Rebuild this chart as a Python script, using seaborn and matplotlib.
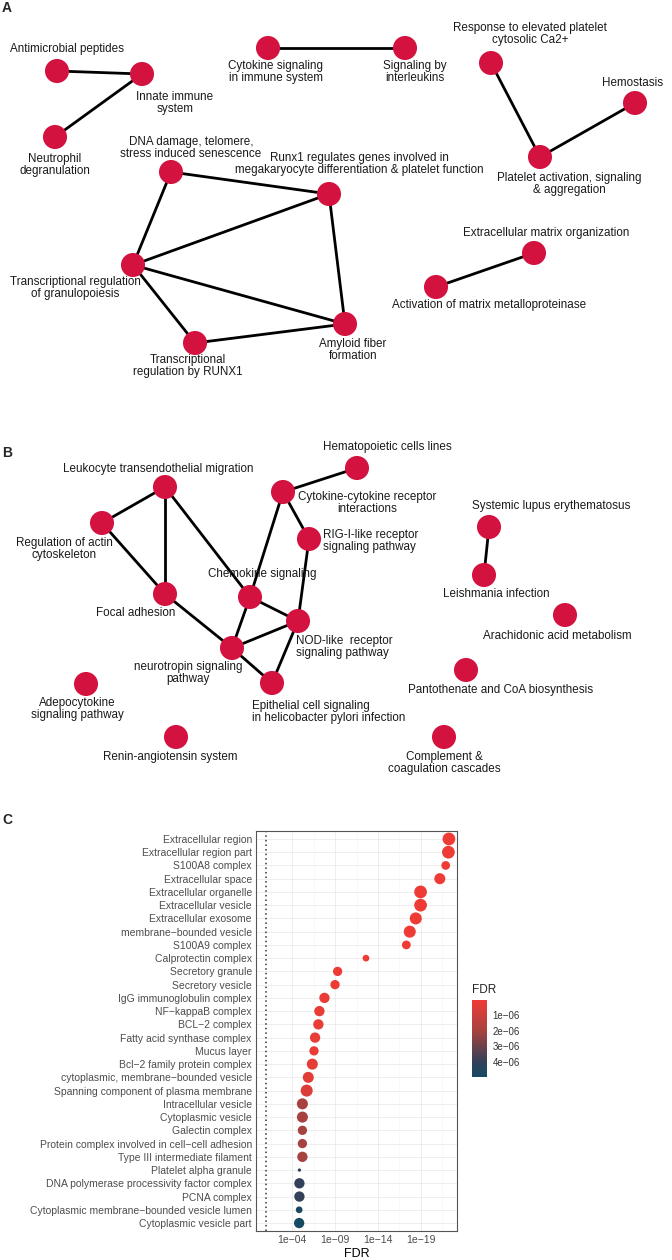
import numpy as np
import pandas as pd
import seaborn as sns
import matplotlib.pyplot as plt
from matplotlib.colors import LinearSegmentedColormap, Normalize
from matplotlib.cm import ScalarMappable
from matplotlib.ticker import NullFormatter

sns.set_theme(style="white")
plt.rcParams['font.family'] = ['Liberation Sans', 'DejaVu Sans']

W, H = 672, 1260

# ---- panel A: reactome pathway network (layout in pixel units) ----
a_nodes = ["Antimicrobial peptides", "Innate immune\nsystem", "Neutrophil\ndegranulation",
           "Cytokine signaling\nin immune system", "Signaling by\ninterleukins",
           "Response to elevated platelet\ncytosolic Ca2+", "Hemostasis",
           "Platelet activation, signaling\n& aggregation",
           "DNA damage, telomere,\nstress induced senescence",
           "Runx1 regulates genes involved in\nmegakaryocyte differentiation & platelet function",
           "Transcriptional regulation\nof granulopoiesis", "Transcriptional\nregulation by RUNX1",
           "Amyloid fiber\nformation", "Extracellular matrix organization",
           "Activation of matrix metalloproteinase"]
a_x = [57, 142, 55, 268, 405, 491, 635, 540, 171, 329, 133, 195, 345, 534, 436]
a_y = [71, 74, 137, 48, 48, 63, 103, 157, 172, 194, 265, 343, 324, 253, 287]
a_edges = [(0, 1), (1, 2), (3, 4), (5, 7), (6, 7), (8, 9), (8, 10), (9, 10),
           (9, 12), (10, 12), (10, 11), (11, 12), (13, 14)]
a_lab_dx = [10, 33, 0, 8, 10, 39, -2, 29, 20, 30, -58, -7, 8, 12, 53]
a_lab_dy = [-22, 29, 28, 24, 24, -29, -20, 27, -24, -30, 23, 23, 26, -20, 18]

# ---- panel B: KEGG pathway network ----
b_nodes = ["Leukocyte transendothelial migration", "Hematopoietic cells lines",
           "Cytokine-cytokine receptor\ninteractions", "Systemic lupus erythematosus",
           "RIG-I-like receptor\nsignaling pathway", "Regulation of actin\ncytoskeleton",
           "Chemokine signaling", "Focal adhesion", "NOD-like  receptor\nsignaling pathway",
           "neurotropin signaling\npathway",
           "Epithelial cell signaling\nin helicobacter pylori infection",
           "Adepocytokine\nsignaling pathway", "Renin-angiotensin system",
           "Leishmania infection", "Arachidonic acid metabolism",
           "Pantothenate and CoA biosynthesis", "Complement &\ncoagulation cascades"]
b_x = [165, 357, 283, 489, 309, 102, 250, 165, 298, 232, 272, 86, 176, 484, 565, 466, 444]
b_y = [487, 468, 492, 527, 539, 523, 597, 594, 621, 648, 683, 684, 737, 575, 615, 670, 737]
b_edges = [(0, 5), (0, 7), (0, 6), (5, 7), (7, 9), (6, 9), (6, 8), (9, 8), (9, 10),
           (10, 8), (4, 8), (2, 6), (2, 4), (2, 1), (3, 13)]
b_lab_dx = [-7, 30, 84, 62, 14, -38, 12, -29, -2, -44, -20, -9, -6, 12, -8, 35, 0]
b_lab_dy = [-18, -21, 11, -21, 2, 26, -23, 19, 26, 25, 29, 25, 20, 19, 21, 20, 26]
b_lab_ha = ["center", "center", "center", "center", "left", "center", "center", "center",
            "left", "center", "left", "center", "center", "center", "center", "center", "center"]

# ---- panel C: GO cellular component enrichment ----
go_terms = ["Extracellular region", "Extracellular region part", "S100A8 complex",
            "Extracellular space", "Extracellular organelle", "Extracellular vesicle",
            "Extracellular exosome", "membrane\u2212bounded vesicle", "S100A9 complex",
            "Calprotectin complex", "Secretory granule", "Secretory vesicle",
            "IgG immunoglobulin complex", "NF\u2212kappaB complex", "BCL\u22122 complex",
            "Fatty acid synthase complex", "Mucus layer", "Bcl\u22122 family protein complex",
            "cytoplasmic, membrane\u2212bounded vesicle", "Spanning component of plasma membrane",
            "Intracellular vesicle", "Cytoplasmic vesicle", "Galectin complex",
            "Protein complex involved in cell\u2212cell adhesion", "Type III intermediate filament",
            "Platelet alpha granule", "DNA polymerase processivity factor complex",
            "PCNA complex", "Cytoplasmic membrane\u2212bounded vesicle lumen",
            "Cytoplasmic vesicle part"]
go_pos = [5.5e-23, 6.3e-23, 1.3e-22, 6.3e-22, 1.1e-19, 1.1e-19, 4.0e-19, 2.0e-18, 5.0e-18,
          2.5e-13, 5.0e-10, 1.0e-9, 1.7e-8, 6.6e-8, 8.7e-8, 2.1e-7, 2.8e-7, 4.4e-7, 1.3e-6,
          2.0e-6, 6.3e-6, 6.3e-6, 6.3e-6, 6.3e-6, 6.3e-6, 1.4e-5, 1.4e-5, 1.4e-5, 1.5e-5, 1.5e-5]
go_fdr = [2.1e-21, 2.1e-21, 3.5e-20, 1.0e-19, 4.9e-17, 4.9e-17, 1.6e-16, 4.2e-16, 1.1e-15,
          3.2e-11, 4.8e-8, 8.5e-8, 1.3e-7, 1.6e-7, 1.6e-7, 1.9e-7, 1.9e-7, 2.4e-7, 3.6e-7,
          5.2e-7, 2.0e-6, 2.0e-6, 2.0e-6, 2.0e-6, 2.0e-6, 4.0e-6, 4.0e-6, 4.0e-6, 4.8e-6, 5.0e-6]
go_count = [161, 161, 76, 121, 161, 161, 144, 144, 76, 45, 86, 86, 106, 106, 106, 106, 86,
            121, 121, 144, 121, 121, 86, 86, 106, 11, 106, 106, 45, 106]
x_ticks = [1e-4, 1e-9, 1e-14, 1e-19]
x_tick_labels = ["1e\u221204", "1e\u221209", "1e\u221214", "1e\u221219"]
cbar_ticks = [1e-6, 2e-6, 3e-6, 4e-6]
cbar_labels = ["1e\u221206", "2e\u221206", "3e\u221206", "4e\u221206"]

node_col = "#D3123F"
fdr_cmap = LinearSegmentedColormap.from_list(
    "fdr", [(0, "#EF3B36"), (0.4, "#A6423F"), (0.8, "#33405A"), (1, "#164A63")])

fig = plt.figure(figsize=(W / 100, H / 100), dpi=100)

# networks share one axes in pixel coordinates
net = fig.add_axes([0, 460 / H, 1, 800 / H])
net.set_xlim(0, W)
net.set_ylim(800, 0)
net.axis("off")


def draw_network(names, xs, ys, edges, dx, dy, ha=None):
    for i, j in edges:
        net.plot([xs[i], xs[j]], [ys[i], ys[j]], color="black", lw=2, zorder=2,
                 solid_capstyle="round")
    sns.scatterplot(x=xs, y=ys, s=300, color=node_col, edgecolor="none", ax=net, zorder=3)
    for k, name in enumerate(names):
        h = "center" if ha is None else ha[k]
        net.text(xs[k] + dx[k], ys[k] + dy[k], name, ha=h, va="center", fontsize=8.4,
                 color="#1a1a1a", linespacing=0.98, multialignment=h, zorder=4)


draw_network(a_nodes, a_x, a_y, a_edges, a_lab_dx, a_lab_dy)
draw_network(b_nodes, b_x, b_y, b_edges, b_lab_dx, b_lab_dy, b_lab_ha)

# ---- panel C ----
df = pd.DataFrame({"term": go_terms, "pos": go_pos, "FDR": go_fdr, "count": go_count})
norm = Normalize(0, max(go_fdr))

ax = fig.add_axes([256 / W, 29 / H, 201 / W, 400 / H])
ax.axvline(0.1, color="#333333", lw=1.1, ls=(0, (1, 2)), zorder=1)
sns.scatterplot(data=df, x="pos", y="term", hue="FDR", size="count", palette=fdr_cmap,
                hue_norm=norm, sizes=(0, 84), size_norm=(0, 161), edgecolor="none",
                legend=False, ax=ax, zorder=3)
ax.set_xscale("log")
ax.set_xlim(10 ** 0.2, 10 ** -23.2)
ax.set_ylim(len(go_terms) - 0.4, -0.6)
ax.set_xticks(x_ticks)
ax.set_xticklabels(x_tick_labels)
ax.set_xticks([10 ** -1.5, 10 ** -6.5, 10 ** -11.5, 10 ** -16.5, 10 ** -21.5], minor=True)
ax.xaxis.set_minor_formatter(NullFormatter())
ax.grid(which="major", color="#EBEBEB", lw=0.6)
ax.grid(which="minor", axis="x", color="#F5F5F5", lw=0.4)
ax.set_axisbelow(True)
ax.tick_params(which="both", length=0, labelsize=7.5, labelcolor="#4D4D4D", pad=3)
ax.set_ylabel("")
ax.set_xlabel("FDR", fontsize=9, color="black", labelpad=2)
for sp in ax.spines.values():
    sp.set_color("#555555")
    sp.set_linewidth(0.8)

# colour legend
cax = fig.add_axes([472 / W, (H - 1077) / H, 15 / W, 77 / H])
cb = fig.colorbar(ScalarMappable(norm=norm, cmap=fdr_cmap), cax=cax)
cb.outline.set_visible(False)
cax.invert_yaxis()
cb.set_ticks(cbar_ticks)
cb.set_ticklabels(cbar_labels)
cax.tick_params(length=0, labelsize=7, labelcolor="#333333", pad=4)
fig.text(472 / W, 1 - 990 / H, "FDR", fontsize=8.5, ha="left", va="center")

# panel letters
for letter, ly in [("A", 8), ("B", 453), ("C", 820)]:
    fig.text(2 / W, 1 - ly / H, letter, fontsize=10, fontweight="bold", ha="left", va="center")

fig.savefig("out.png", dpi=100)
